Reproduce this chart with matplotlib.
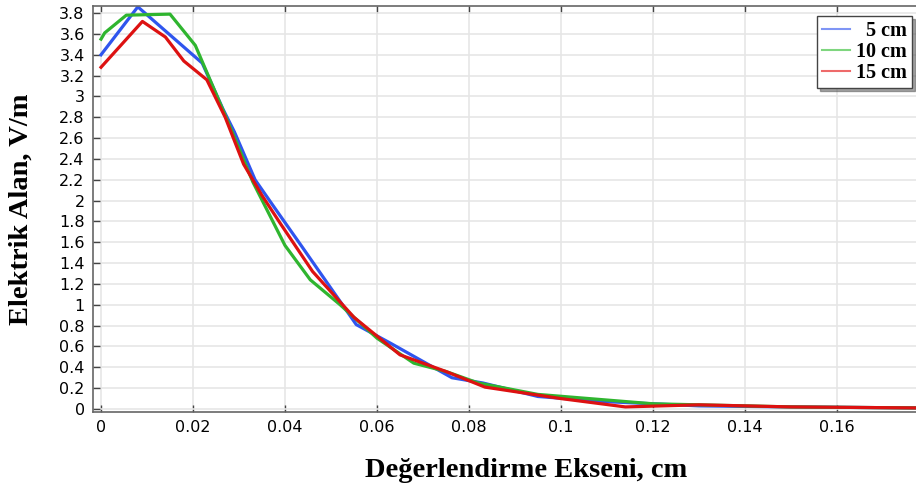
import numpy as np
import matplotlib
matplotlib.use("Agg")
import matplotlib.pyplot as plt
from matplotlib.ticker import MultipleLocator

# data (x in cm, E in V/m)
x_5cm = [0, 0.008, 0.022, 0.0265, 0.029, 0.0335, 0.0376, 0.0435, 0.0555, 0.063,
         0.0763, 0.083, 0.095, 0.11, 0.13, 0.15, 0.178]
y_5cm = [3.40, 3.86, 3.32, 2.88, 2.66, 2.20, 1.94, 1.57, 0.81, 0.63,
         0.30, 0.25, 0.12, 0.07, 0.03, 0.02, 0.01]

x_10cm = [0, 0.0008, 0.0055, 0.015, 0.0205, 0.027, 0.033, 0.040, 0.0455, 0.052,
          0.060, 0.068, 0.075, 0.082, 0.095, 0.12, 0.15, 0.178]
y_10cm = [3.55, 3.61, 3.78, 3.79, 3.49, 2.82, 2.18, 1.57, 1.24, 1.00,
          0.68, 0.44, 0.36, 0.25, 0.14, 0.05, 0.02, 0.01]

x_15cm = [0, 0.009, 0.014, 0.018, 0.023, 0.027, 0.031, 0.035, 0.039, 0.046,
          0.055, 0.065, 0.075, 0.0835, 0.1, 0.114, 0.13, 0.15, 0.178]
y_15cm = [3.28, 3.72, 3.57, 3.34, 3.16, 2.80, 2.35, 2.05, 1.78, 1.32,
          0.88, 0.52, 0.36, 0.21, 0.10, 0.02, 0.04, 0.02, 0.01]

labels = ["  5 cm", "10 cm", "15 cm"]
colors = ["#2f55ee", "#2fb52f", "#dd1111"]


def fmt(v, pos):
    return "0" if abs(v) < 1e-9 else f"{v:g}"


fig = plt.figure(figsize=(9.16, 4.88), dpi=100)
ax = fig.add_axes([0.1015, 0.1557, 0.9030, 0.832])

for xs, ys, lab, c in zip([x_5cm, x_10cm, x_15cm], [y_5cm, y_10cm, y_15cm], labels, colors):
    ax.plot(xs, ys, color=c, lw=2.3, label=lab)

ax.set_xlim(-0.00175, 0.1781)
ax.set_ylim(-0.029, 3.868)
ax.xaxis.set_major_locator(MultipleLocator(0.02))
ax.yaxis.set_major_locator(MultipleLocator(0.2))
ax.xaxis.set_major_formatter(plt.FuncFormatter(fmt))
ax.yaxis.set_major_formatter(plt.FuncFormatter(fmt))
ax.grid(True, color="#e6e6e6", lw=1.2)
ax.set_axisbelow(True)
ax.tick_params(direction="in", top=True, right=False, length=5, width=1,
               color="#444444", labelsize=11.5, pad=6)
for s in ["left", "bottom", "top"]:
    ax.spines[s].set_color("#666666")
    ax.spines[s].set_linewidth(1.2)
ax.spines["right"].set_visible(False)

ax.set_xlabel("Değerlendirme Ekseni, cm", family="Liberation Serif", fontweight="bold",
              fontsize=20.5)
ax.set_ylabel("Elektrik Alan, V/m", family="Liberation Serif", fontweight="bold",
              fontsize=20.5)
ax.xaxis.set_label_coords(0.5236, -0.113)
ax.yaxis.set_label_coords(-0.0713, 0.5)

leg = ax.legend(loc="upper right", bbox_to_anchor=(0.995, 0.985), fancybox=False, shadow=True,
                prop={"family": "Liberation Serif", "weight": "bold", "size": 14.5},
                handlelength=1.4, borderpad=0.25, labelspacing=0.05, handletextpad=0.3,
                borderaxespad=0.2, edgecolor="#444444", framealpha=1)
leg.get_frame().set_linewidth(1)
for h, c in zip(leg.get_lines(), ["#7f95f5", "#7fd67f", "#ee6a6a"]):
    h.set_linewidth(1.5)
    h.set_color(c)

fig.savefig("out.png", dpi=100)
